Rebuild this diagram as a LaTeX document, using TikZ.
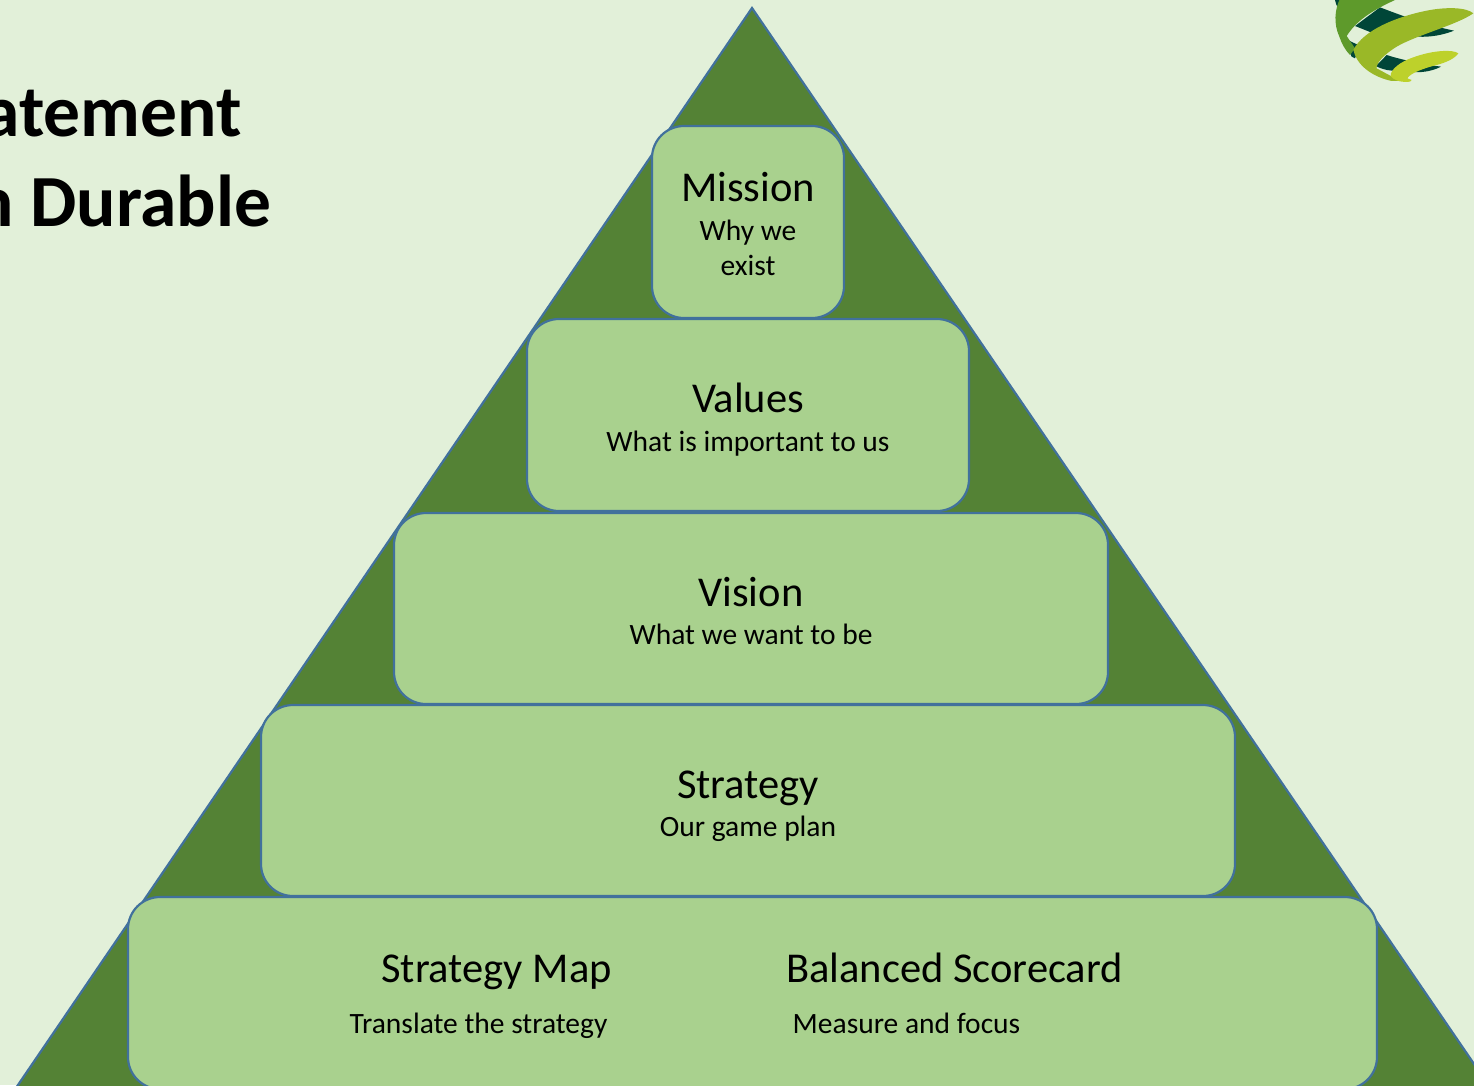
\documentclass[tikz,border=0pt]{standalone}
\usepackage{fontspec}
\setmainfont{Carlito}
\definecolor{bgc}{HTML}{E2F0D9}
\definecolor{tric}{HTML}{548235}
\definecolor{boxc}{HTML}{A9D18E}
\definecolor{edgec}{HTML}{41719C}
\definecolor{logod}{HTML}{004638}
\definecolor{logog}{HTML}{5E9A2B}
\definecolor{logom}{HTML}{9AB827}
\definecolor{logol}{HTML}{BDD12B}
\tikzset{
  tier/.style={draw=edgec,fill=boxc,line width=2.2pt,rounded corners=32pt,inner sep=0pt,outer sep=0pt},
  head/.style={anchor=base,inner sep=0pt,font=\fontsize{42.5}{50}\selectfont,text=black},
  subhead/.style={anchor=base,inner sep=0pt,font=\fontsize{29.5}{35}\selectfont,text=black},
  bigtitle/.style={anchor=base west,inner sep=0pt,font=\fontsize{73.5}{88}\selectfont\bfseries,text=black}
}
\begin{document}
\begin{tikzpicture}[x=1pt,y=-1pt]
\useasboundingbox (0,0) rectangle (1474,1085);
\fill[bgc] (0,0) rectangle (1474,1085);
\begin{scope}
\clip (0,0) rectangle (1474,1085);
\coordinate (apex) at (752,8);
\coordinate (baseL) at (-19.5,1140);
\coordinate (baseR) at (1526,1140);
\draw[edgec,fill=tric,line width=2.2pt] (apex) -- (baseL) -- (baseR) -- cycle;
\node[tier,minimum width=192pt,minimum height=192pt] (mission) at (748,222) {};
\node[tier,minimum width=442pt,minimum height=192pt] (values) at (748,415) {};
\node[tier,minimum width=714pt,minimum height=191pt] (vision) at (751,608.5) {};
\node[tier,minimum width=974pt,minimum height=191pt] (strategy) at (748,800.5) {};
\node[tier,minimum width=1249pt,minimum height=192pt] (map) at (752.5,993) {};
\end{scope}
\node[head] (t1) at (748,201) {Mission};
\node[subhead] (t1a) at (748,240.5) {Why we};
\node[subhead] (t1b) at (748,275.5) {exist};
\node[head] (t2) at (748,412.5) {Values};
\node[subhead] (t2a) at (748,451.5) {What is important to us};
\node[head] (t3) at (751,606.5) {Vision};
\node[subhead] (t3a) at (751,644) {What we want to be};
\node[head] (t4) at (748,798.5) {Strategy};
\node[subhead] (t4a) at (748,836) {Our game plan};
\node[head] (t5) at (496.5,982.5) {Strategy Map};
\node[subhead] (t5a) at (478.5,1033) {Translate the strategy};
\node[head] (t6) at (954.5,982.5) {Balanced Scorecard};
\node[subhead] (t6a) at (906.5,1033) {Measure and focus};
\begin{scope}
\clip (0,0) rectangle (1474,1085);
\node[bigtitle,anchor=base east] (title1) at (242,136.5) {atement};
\node[bigtitle,anchor=base east] (title2) at (271.5,226) {n Durable};
\begin{scope}[shift={(1300,0)},x=0.3333pt,y=-0.3333pt]
\fill[logod] (105,0) -- (140,0) -- (125,35) .. controls (115,30) and (108,15) .. (105,0) -- cycle;
\fill[logod] (240,22) .. controls (300,45) and (380,75) .. (462,92) .. controls (430,105) and (390,112) .. (355,110) -- (215,98) -- (165,78) -- cycle;
\fill[logod] (137,115) .. controls (150,125) and (165,130) .. (180,137) -- (165,175) -- (155,170) .. controls (147,155) and (140,135) .. (137,115) -- cycle;
\fill[logod] (260,165) .. controls (290,175) and (350,190) .. (423,200) .. controls (400,212) and (370,218) .. (345,216) -- (275,212) .. controls (255,210) and (240,205) .. (228,198) -- cycle;
\fill[logog] (118,0) -- (285,0) .. controls (220,30) and (170,60) .. (140,108) -- (165,145) -- (150,165) .. controls (135,150) and (125,130) .. (118,110) .. controls (100,70) and (105,30) .. (118,0) -- cycle;
\fill[logom] (520,40) .. controls (500,22) and (440,20) .. (380,32) .. controls (290,50) and (190,90) .. (160,150) .. controls (170,195) and (215,230) .. (275,243) -- (300,243) -- (230,205) .. controls (228,190) and (250,165) .. (290,140) .. controls (350,105) and (470,75) .. (520,40) -- cycle;
\fill[logol] (475,160) .. controls (460,148) and (400,150) .. (340,172) .. controls (300,185) and (270,210) .. (272,228) .. controls (280,240) and (300,248) .. (330,245) -- (335,240) -- (322,235) .. controls (330,220) and (370,205) .. (410,195) .. controls (440,187) and (465,175) .. (475,160) -- cycle;
\end{scope}
\end{scope}
\end{tikzpicture}
\end{document}
